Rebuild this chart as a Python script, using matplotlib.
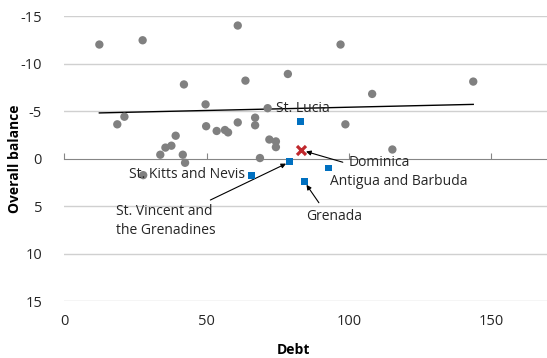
#!/usr/bin/env python3
import numpy as np
import matplotlib
matplotlib.use("Agg")
import matplotlib.pyplot as plt

plt.rcParams['font.family'] = ['Open Sans', 'DejaVu Sans']

# other countries (gray)
debt_other = [12.3, 27.5, 60.9, 42.0, 63.6, 49.6, 71.4, 18.6, 21.1, 49.8,
              53.5, 56.4, 57.5, 60.9, 67.0, 67.0, 39.1, 37.6, 35.5, 33.7,
              41.6, 42.4, 68.7, 72.0, 74.3, 74.3, 27.7, 97.0, 78.5, 143.6,
              108.1, 98.7, 115.2]
bal_other = [-12.0, -12.45, -14.0, -7.8, -8.2, -5.7, -5.3, -3.6, -4.4, -3.4,
             -2.9, -3.0, -2.75, -3.8, -4.3, -3.5, -2.4, -1.35, -1.15, -0.4,
             -0.4, 0.45, -0.05, -2.0, -1.8, -1.2, 1.75, -12.0, -8.9, -8.1,
             -6.8, -3.6, -0.95]

# ECCU countries (blue)
eccu_names = ['St. Lucia', 'St. Vincent and\nthe Grenadines', 'Antigua and Barbuda',
              'Grenada', 'St. Kitts and Nevis']
debt_eccu = [82.8, 79.2, 92.7, 84.2, 65.8]
bal_eccu = [-3.85, 0.35, 1.0, 2.4, 1.75]

# Dominica
debt_dom = [83.0]
bal_dom = [-0.9]

# linear trend of all points
trend_x = [12.3, 143.6]
trend_y = [-4.8, -5.7]

yticks = [-15, -10, -5, 0, 5, 10, 15]
xticks = [0, 50, 100, 150]

fig = plt.figure(figsize=(5.47, 3.58), dpi=100)
ax = fig.add_axes([0.1176, 0.1592, 0.885, 0.796])

ax.set_xlim(0, 170)
ax.set_ylim(15, -15)

for y in yticks:
    if y != 0:
        ax.axhline(y, color='#d0d0d0', lw=1.0, zorder=0)

ax.plot(trend_x, trend_y, color='black', lw=1.0, zorder=2)
ax.scatter(debt_other, bal_other, s=36, color='#808080', edgecolors='none', zorder=3)
ax.scatter(debt_eccu, bal_eccu, s=25, marker='s', color='#0070C0', edgecolors='none', zorder=4)
ax.scatter(debt_dom, bal_dom, s=42, marker='x', color='#C0282D', linewidths=2.3, zorder=5)

for s in ['top', 'right', 'left']:
    ax.spines[s].set_visible(False)
ax.spines['bottom'].set_position(('data', 0))
ax.spines['bottom'].set_color('#868686')
ax.tick_params(axis='x', direction='in', length=4, color='#868686', labelbottom=False)
ax.set_xticks(xticks)
ax.set_yticks(yticks)
ax.set_yticklabels([str(v) for v in yticks])
ax.tick_params(axis='y', length=0, pad=16, labelsize=10.5, labelcolor='#262626')

sec = ax.secondary_xaxis('bottom')
sec.spines['bottom'].set_visible(False)
sec.set_xticks(xticks)
sec.tick_params(length=0, pad=9, labelsize=10.5, labelcolor='#262626')

ax.set_ylabel('Overall balance', fontsize=10, fontweight='bold')
ax.yaxis.set_label_coords(-0.088, 0.5)
fig.text(0.536, 0.012, 'Debt', fontsize=10, fontweight='bold', ha='center')

tkw = dict(fontsize=10, color='#262626')
akw = dict(arrowstyle='-|>', color='black', lw=0.8, mutation_scale=7)

ax.annotate(eccu_names[0], (debt_eccu[0], bal_eccu[0]), xytext=(74.5, -5.3),
            va='center', ha='left', **tkw)
ax.annotate(eccu_names[1], (debt_eccu[1], bal_eccu[1]), xytext=(18.3, 6.6),
            va='center', ha='left', linespacing=1.4,
            arrowprops=dict(**akw, shrinkA=2, shrinkB=3), **tkw)
ax.annotate(eccu_names[2], (debt_eccu[2], bal_eccu[2]), xytext=(93.3, 2.4),
            va='center', ha='left', **tkw)
ax.annotate(eccu_names[3], (debt_eccu[3], bal_eccu[3]), xytext=(85.0, 6.1),
            va='center', ha='left',
            arrowprops=dict(**akw, shrinkA=3, shrinkB=3, relpos=(0.3, 1.0)), **tkw)
ax.annotate(eccu_names[4], (debt_eccu[4], bal_eccu[4]), xytext=(63.3, 1.65),
            va='center', ha='right', **tkw)
ax.annotate('Dominica', (debt_dom[0], bal_dom[0]), xytext=(99.7, 0.4),
            va='center', ha='left',
            arrowprops=dict(**akw, shrinkA=2, shrinkB=4, relpos=(0.0, 0.4)), **tkw)

fig.savefig('out.png', dpi=100)
